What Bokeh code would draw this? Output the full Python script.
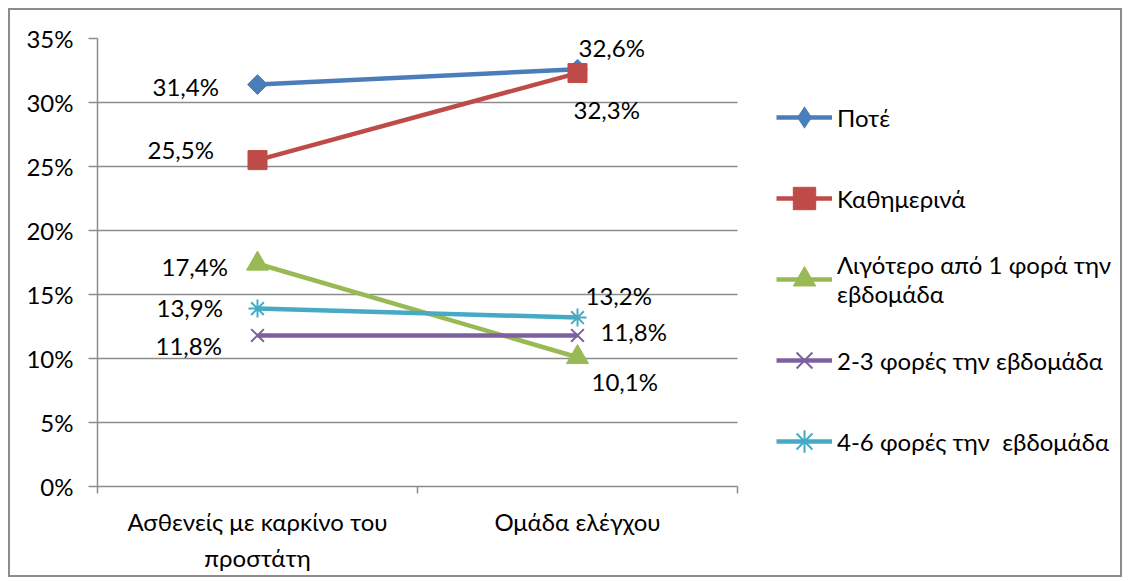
from bokeh.plotting import figure
from bokeh.models import ColumnDataSource, Legend, LegendItem, FixedTicker, PrintfTickFormatter, Range1d
from bokeh.embed import file_html
from bokeh.resources import INLINE
from bokeh.core.properties import value
import math

# ---- data ----
categories = ["Ασθενείς με καρκίνο του\nπροστάτη", "Ομάδα ελέγχου"]
series_names = ["Ποτέ", "Καθημερινά", "Λιγότερο από 1 φορά την\nεβδομάδα",
                "2-3 φορές την εβδομάδα", "4-6 φορές την  εβδομάδα"]
pote = [31.4, 32.6]
kathimerina = [25.5, 32.3]
ligotero = [17.4, 10.1]
fores_2_3 = [11.8, 11.8]
fores_4_6 = [13.9, 13.2]
y_ticks = [0, 5, 10, 15, 20, 25, 30, 35]

series_values = [pote, kathimerina, ligotero, fores_2_3, fores_4_6]

# ---- styles ----
colors = ["#4A7EBB", "#BE4B48", "#98B954", "#7D60A0", "#46AAC5"]
markers = ["square", "square", "triangle", "x", "asterisk"]
legend_markers = ["diamond", None, None, None, None]
marker_angles = [math.pi / 4, 0, 0, 0, 0]
marker_sizes = [14, 19, 22, 18, 18]
# label offsets (px): (left point, right point) for each series
label_dx = [(-105, 1), (-110, -4), (-96, 14), (-102, 23), (-101, 8)]
label_dy = [(2, -22), (-11, 36), (3, 24), (10, -4), (-1, -22)]

FONT = "Lato"
FS = "24px"
GRID = "#8C8C8C"

W, H = 1114, 569
LEFT, TOP, BOTTOM = 87, 28, 93
PLOT_W = 640                      # width of the data area (axis + grid)
FRAME_W = W - LEFT                # frame spans to the right edge (legend lives in it)

n = len(categories)
x_pos = [i + 0.5 for i in range(n)]

p = figure(width=W, height=H, output_backend="svg", toolbar_location=None,
           x_range=Range1d(0, n * FRAME_W / PLOT_W), y_range=Range1d(y_ticks[0], y_ticks[-1]),
           min_border_left=LEFT, min_border_top=TOP, min_border_right=0, min_border_bottom=BOTTOM,
           styles={"border": "2px solid #8C8C8C", "margin-left": "8px", "margin-top": "8px"})
p.outline_line_color = None
p.background_fill_color = "white"
p.border_fill_color = "white"

# axes
p.xaxis.bounds = (0, n)
p.xaxis.ticker = FixedTicker(ticks=x_pos, minor_ticks=list(range(n + 1)))
p.xaxis.major_label_overrides = {x: c for x, c in zip(x_pos, categories)}
p.xaxis.major_tick_out = 0
p.xaxis.major_tick_in = 0
p.xaxis.minor_tick_out = 7
p.xaxis.minor_tick_in = 0
p.xaxis.minor_tick_line_color = GRID
p.xaxis.minor_tick_line_width = 1.5
p.xaxis.axis_line_color = GRID
p.xaxis.axis_line_width = 1.5
p.xaxis.major_label_standoff = 13
p.xaxis.major_label_text_line_height = 1.25

p.yaxis.ticker = FixedTicker(ticks=y_ticks, minor_ticks=[])
p.yaxis.formatter = PrintfTickFormatter(format="%d%%")
p.yaxis.major_tick_out = 9
p.yaxis.major_tick_in = 0
p.yaxis.major_tick_line_color = GRID
p.yaxis.major_tick_line_width = 1.5
p.yaxis.axis_line_color = GRID
p.yaxis.axis_line_width = 1.5
p.yaxis.major_label_standoff = 15

for ax in (p.xaxis, p.yaxis):
    ax.major_label_text_font = FONT
    ax.major_label_text_font_size = FS
    ax.major_label_text_color = "black"

p.xgrid.visible = False
p.ygrid.grid_line_color = GRID
p.ygrid.grid_line_width = 1.5
p.ygrid.cross_bounds = (0, n)

# series
legend_items = []
label_x, label_y, label_text, label_xo, label_yo = [], [], [], [], []
for i, (name, vals) in enumerate(zip(series_names, series_values)):
    src = ColumnDataSource(dict(x=x_pos, y=vals))
    lr = p.line("x", "y", source=src, line_color=colors[i], line_width=4.5)
    renderers = None
    if legend_markers[i]:
        # zero-size twin glyph: invisible in the plot, gives the key its diamond shape
        lm = p.scatter("x", "y", source=src, marker=legend_markers[i], size=0,
                       fill_color=colors[i], line_color=colors[i], line_width=0)
        renderers = [lr, lm]
    mr = p.scatter("x", "y", source=src, marker=markers[i], size=marker_sizes[i],
                   angle=marker_angles[i], fill_color=colors[i], line_color=colors[i],
                   line_width=2 if markers[i] in ("x", "asterisk") else 1)
    legend_items.append(LegendItem(label=name, renderers=renderers or [lr, mr]))
    for j, v in enumerate(vals):
        label_x.append(x_pos[j])
        label_y.append(v)
        label_text.append(f"{v:.1f}".replace(".", ",") + "%")
        label_xo.append(label_dx[i][j])
        label_yo.append(label_dy[i][j])

lsrc = ColumnDataSource(dict(x=label_x, y=label_y, text=label_text, xo=label_xo, yo=label_yo))
p.text("x", "y", text="text", x_offset="xo", y_offset="yo", source=lsrc,
       text_font=value(FONT), text_font_size=FS, text_color="black",
       text_align="left", text_baseline="middle")

lg = Legend(items=legend_items, location=(PLOT_W + 39, 13),
            orientation="vertical", glyph_width=56, glyph_height=64,
            label_standoff=5, spacing=17, padding=0, margin=0,
            border_line_alpha=0, background_fill_alpha=0,
            label_text_font=FONT, label_text_font_size=FS,
            label_text_color="black")
p.add_layout(lg, "center")

open("out.html", "w").write(file_html(p, INLINE))
